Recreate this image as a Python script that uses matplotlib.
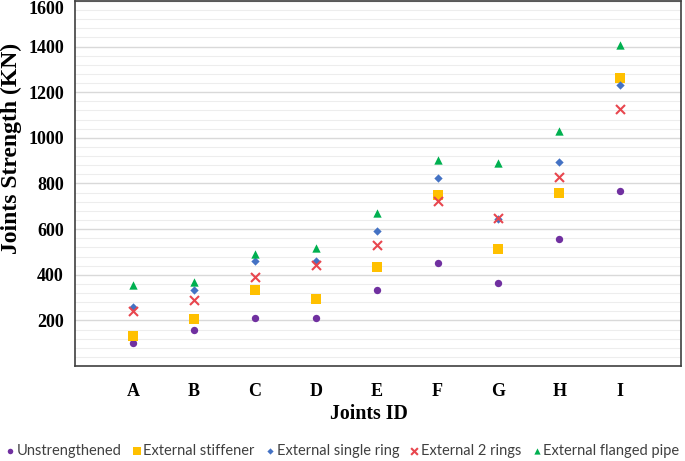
import numpy as np
import matplotlib.pyplot as plt
from matplotlib.ticker import MultipleLocator

joints = ['A', 'B', 'C', 'D', 'E', 'F', 'G', 'H', 'I']
unstrengthened = [99, 160, 212, 212, 333, 452, 365, 556, 769]
ext_stiffener = [133, 204, 333, 292, 436, 750, 512, 760, 1262]
ext_single_ring = [260, 333, 461, 461, 590, 825, 645, 893, 1230]
ext_2_rings = [240, 289, 388, 441, 531, 724, 648, 828, 1125]
ext_flanged_pipe = [356, 369, 493, 517, 670, 905, 889, 1030, 1405]

series = [
    ('Unstrengthened', unstrengthened, 'o', '#7030A0', 28),
    ('External stiffener', ext_stiffener, 's', '#FFC000', 60),
    ('External single ring', ext_single_ring, 'D', '#4472C4', 18),
    ('External 2 rings', ext_2_rings, 'x', '#E8464E', 42),
    ('External flanged pipe', ext_flanged_pipe, '^', '#00B050', 36),
]

fig = plt.figure(figsize=(6.85, 4.61), dpi=100)
ax = fig.add_axes([0.1095, 0.206, 0.885, 0.792])

x = np.arange(len(joints))
for label, vals, marker, color, size in series:
    kw = dict(linewidths=1.5) if marker == 'x' else dict(linewidths=0)
    ax.scatter(x, vals, marker=marker, s=size, color=color, label=label,
               zorder=3, **kw)

ax.set_xlim(-0.95, 9.0)
ax.set_ylim(0, 1600)
ax.set_xticks(x)
ax.set_xticklabels(joints)
ax.set_yticks(np.arange(200, 1601, 200))
ax.yaxis.set_minor_locator(MultipleLocator(40))

ax.grid(True, which='major', axis='y', color='#d9d9d9', lw=1.0, zorder=0)
ax.grid(True, which='minor', axis='y', color='#ededed', lw=0.8, zorder=0)
ax.set_axisbelow(True)

for sp in ax.spines.values():
    sp.set_color('#404040')
    sp.set_linewidth(1.2)

ax.tick_params(axis='both', which='both', length=0)
ax.tick_params(axis='y', pad=8)
ax.tick_params(axis='x', pad=12)
for t in ax.get_xticklabels() + ax.get_yticklabels():
    t.set_fontproperties('Liberation Serif')
    t.set_fontweight('bold')
    t.set_fontsize(13)
# top label sits just under the frame, as in the original
ax.get_yticklabels()[-1].set_verticalalignment('top')

ax.set_xlabel('Joints ID', family='Liberation Serif', weight='bold', size=14.3)
ax.set_ylabel('Joints Strength (KN)', family='Liberation Serif', weight='bold', size=17)
ax.xaxis.set_label_coords(0.485, -0.103)
ax.yaxis.set_label_coords(-0.088, 0.596)

leg = fig.legend(loc='center', bbox_to_anchor=(0.5, 0.022), ncol=5,
                 frameon=False, handletextpad=0.15, columnspacing=0.75,
                 markerscale=0.75, handlelength=0.6, borderpad=0,
                 prop=dict(family='Lato', size=10.5))
for t in leg.get_texts():
    t.set_color('#404040')

fig.savefig('out.png', dpi=100)
